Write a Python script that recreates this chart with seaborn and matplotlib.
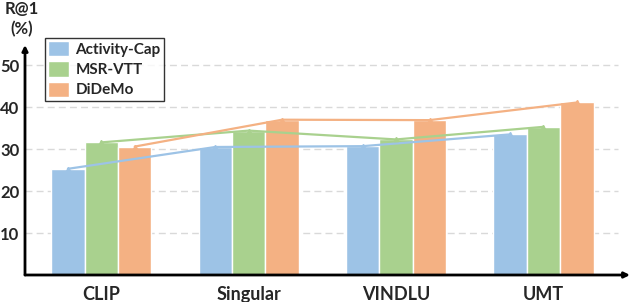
import pandas as pd
import matplotlib.pyplot as plt
import seaborn as sns

models = ["CLIP", "Singular", "VINDLU", "UMT"]
datasets = ["Activity-Cap", "MSR-VTT", "DiDeMo"]
activity_cap = [25.3, 30.5, 30.7, 33.5]
msr_vtt = [31.6, 34.4, 32.3, 35.3]
didemo = [30.6, 37.0, 36.9, 41.1]
yticks = [10, 20, 30, 40, 50]

colors = ["#9DC3E6", "#A9D18E", "#F4B183"]

df = pd.DataFrame({
    "model": models * 3,
    "dataset": [d for d in datasets for _ in models],
    "r1": activity_cap + msr_vtt + didemo,
})

sns.set_style("white")
plt.rcParams["font.family"] = ["Lato", "DejaVu Sans"]

fig = plt.figure(figsize=(6.3, 3.02), dpi=100)
ax = fig.add_axes([25 / 630, 27 / 302, 605 / 630, 230 / 302])

sns.barplot(data=df, x="model", y="r1", hue="dataset", palette=colors,
            saturation=1, width=0.68, gap=0, edgecolor="white", linewidth=1,
            errorbar=None, ax=ax, zorder=2)

# lines joining the bar tops of each dataset
for cont, col in zip(ax.containers, colors):
    xs = [p.get_x() + p.get_width() / 2 for p in cont]
    ys = [p.get_height() for p in cont]
    ax.plot(xs, ys, color=col, lw=1.6, marker="^", ms=3, zorder=3)

ax.set_xlim(-0.518, 3.587)
ax.set_ylim(0, 54.8)
ax.hlines(yticks, -0.518, 3.505, colors="#d9d9d9", linestyles=(0, (5, 3)),
          lw=1, zorder=0)

for s in ax.spines.values():
    s.set_visible(False)
arrow = dict(arrowstyle="-|>", color="black", lw=2, mutation_scale=8,
             shrinkA=0, shrinkB=0)
ax.annotate("", xy=(0, 1), xytext=(0, 0), xycoords="axes fraction",
            arrowprops=arrow)
ax.annotate("", xy=(1, 0), xytext=(0, 0), xycoords="axes fraction",
            arrowprops=arrow)

ax.set_yticks(yticks)
ax.set_yticklabels([str(v) for v in yticks], fontsize=12, fontweight="bold")
ax.set_xticks(range(len(models)))
ax.set_xticklabels(models, fontsize=13, fontweight="bold", va="baseline")
ax.tick_params(length=0)
ax.tick_params(axis="y", pad=4)
ax.tick_params(axis="x", pad=18)
ax.set_xlabel("")
ax.set_ylabel("")

leg = ax.legend(loc="upper left", bbox_to_anchor=(45 / 630, 1 - 38 / 302),
                bbox_transform=fig.transFigure, frameon=True, fancybox=False,
                prop={"weight": "bold", "size": 11}, handlelength=1.4,
                handleheight=1.15, labelspacing=0.3, handletextpad=0.4,
                borderpad=0.2, borderaxespad=0)
leg.get_frame().set_edgecolor("black")
leg.get_frame().set_linewidth(1)

fig.text(22 / 630, 1 - 9 / 302, "R@1", ha="center", va="center",
         fontsize=12, fontweight="bold")
fig.text(22 / 630, 1 - 29 / 302, "(%)", ha="center", va="center",
         fontsize=12, fontweight="bold")

fig.savefig("out.png", dpi=100)
